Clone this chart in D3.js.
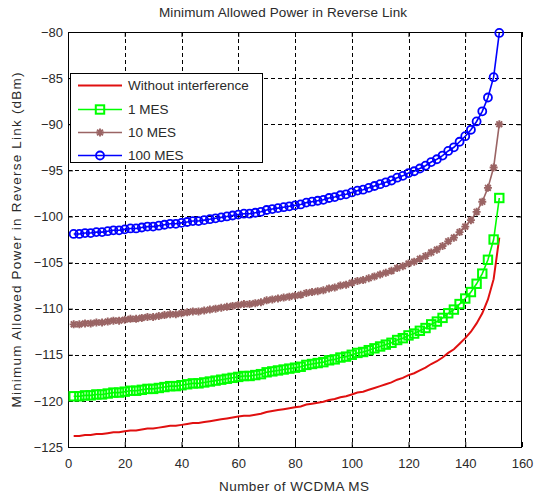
<!DOCTYPE html>
<html><head><meta charset="utf-8">
<script src="https://cdn.jsdelivr.net/npm/d3@7"></script>
<style>
html,body{margin:0;padding:0;background:#fff;}
svg text{font-family:"Liberation Sans",Arial,sans-serif;fill:#2a2a2a;}
</style></head>
<body>
<svg id="chart" width="545" height="497"></svg>
<script>
const xValues = [2,4,6,8,10,12,14,16,18,20,22,24,26,28,30,32,34,36,38,40,42,44,46,48,50,52,54,56,58,60,62,64,66,68,70,72,74,76,78,80,82,84,86,88,90,92,94,96,98,100,102,104,106,108,110,112,114,116,118,120,122,124,126,128,130,132,134,136,138,140,142,144,146,148,150,152];

const withoutInterference = [-123.8,-123.8,-123.7,-123.7,-123.6,-123.6,-123.5,-123.4,-123.4,-123.3,
 -123.2,-123.2,-123.1,-123.0,-123.0,-122.9,-122.8,-122.7,-122.7,-122.6,
 -122.5,-122.4,-122.4,-122.3,-122.2,-122.1,-122.0,-121.9,-121.8,-121.7,
 -121.6,-121.6,-121.5,-121.4,-121.2,-121.1,-121.0,-120.9,-120.8,-120.7,
 -120.6,-120.4,-120.3,-120.2,-120.1,-119.9,-119.8,-119.6,-119.5,-119.3,
 -119.1,-119.0,-118.8,-118.6,-118.4,-118.2,-118.0,-117.7,-117.5,-117.2,
 -117.0,-116.7,-116.4,-116.0,-115.7,-115.3,-114.8,-114.4,-113.8,-113.2,
 -112.5,-111.6,-110.5,-109.0,-106.8,-102.3];

const mes1 = [-119.5,-119.5,-119.4,-119.4,-119.3,-119.3,-119.2,-119.1,-119.1,-119.0,
 -118.9,-118.9,-118.8,-118.7,-118.7,-118.6,-118.5,-118.4,-118.4,-118.3,
 -118.2,-118.1,-118.1,-118.0,-117.9,-117.8,-117.7,-117.6,-117.5,-117.4,
 -117.3,-117.3,-117.2,-117.1,-116.9,-116.8,-116.7,-116.6,-116.5,-116.4,
 -116.3,-116.1,-116.0,-115.9,-115.8,-115.6,-115.5,-115.3,-115.2,-115.0,
 -114.8,-114.7,-114.5,-114.3,-114.1,-113.9,-113.7,-113.4,-113.2,-112.9,
 -112.7,-112.4,-112.1,-111.7,-111.4,-111.0,-110.5,-110.1,-109.5,-108.9,
 -108.2,-107.3,-106.2,-104.7,-102.5,-98.0];

const mes10 = [-111.7,-111.7,-111.6,-111.6,-111.5,-111.5,-111.4,-111.3,-111.3,-111.2,
 -111.1,-111.1,-111.0,-110.9,-110.9,-110.8,-110.7,-110.6,-110.6,-110.5,
 -110.4,-110.3,-110.3,-110.2,-110.1,-110.0,-109.9,-109.8,-109.7,-109.6,
 -109.5,-109.5,-109.4,-109.3,-109.1,-109.0,-108.9,-108.8,-108.7,-108.6,
 -108.5,-108.3,-108.2,-108.1,-108.0,-107.8,-107.7,-107.5,-107.4,-107.2,
 -107.0,-106.9,-106.7,-106.5,-106.3,-106.1,-105.9,-105.6,-105.4,-105.1,
 -104.9,-104.6,-104.3,-103.9,-103.6,-103.2,-102.7,-102.3,-101.7,-101.1,
 -100.4,-99.5,-98.4,-96.9,-94.7,-90.0];

const mes100 = [-101.9,-101.9,-101.8,-101.8,-101.7,-101.7,-101.6,-101.5,-101.5,-101.4,
 -101.3,-101.3,-101.2,-101.1,-101.1,-101.0,-100.9,-100.8,-100.8,-100.7,
 -100.6,-100.5,-100.5,-100.4,-100.3,-100.2,-100.1,-100.0,-99.9,-99.8,
 -99.7,-99.7,-99.6,-99.5,-99.3,-99.2,-99.1,-99.0,-98.9,-98.8,
 -98.7,-98.5,-98.4,-98.3,-98.2,-98.0,-97.9,-97.7,-97.6,-97.4,
 -97.2,-97.1,-96.9,-96.7,-96.5,-96.3,-96.1,-95.8,-95.6,-95.3,
 -95.1,-94.8,-94.5,-94.1,-93.8,-93.4,-92.9,-92.5,-91.9,-91.3,
 -90.6,-89.7,-88.6,-87.1,-84.9,-80.1];

const seriesNames = ["Without interference","1 MES","10 MES","100 MES"];
const xTicks = [0,20,40,60,80,100,120,140,160];
const yTicks = [-125,-120,-115,-110,-105,-100,-95,-90,-85,-80];

const styles = [
  {color:"#e01010", marker:"none", width:2},
  {color:"#00ff00", marker:"square", width:1.6},
  {color:"#9a6464", marker:"star", width:1.6},
  {color:"#0000ff", marker:"circle", width:1.6}
];
const seriesValues = [withoutInterference, mes1, mes10, mes100];

const svg = d3.select("#chart");
const L=68, R=522, T=32, B=447;
const x = d3.scaleLinear().domain([0,160]).range([L,R]);
const y = d3.scaleLinear().domain([-125,-80]).range([B,T]);

// grid
const grid = svg.append("g").attr("stroke","#000").attr("stroke-width",1).attr("stroke-dasharray","4,3");
grid.selectAll(".gx").data(xTicks.slice(1,-1)).enter().append("line")
  .attr("x1",d=>Math.round(x(d))+0.5).attr("x2",d=>Math.round(x(d))+0.5).attr("y1",T).attr("y2",B);
grid.selectAll(".gy").data(yTicks.slice(1,-1)).enter().append("line")
  .attr("y1",d=>Math.round(y(d))+0.5).attr("y2",d=>Math.round(y(d))+0.5).attr("x1",L).attr("x2",R);

// axes
const fs = "13px";
const ax = svg.append("g").attr("transform",`translate(0,${B})`)
  .call(d3.axisBottom(x).tickValues(xTicks).tickSizeInner(-5).tickSizeOuter(0).tickPadding(12));
const ay = svg.append("g").attr("transform",`translate(${L},0)`)
  .call(d3.axisLeft(y).tickValues(yTicks).tickSizeInner(-5).tickSizeOuter(0).tickPadding(5));
const at = svg.append("g").attr("transform",`translate(0,${T})`)
  .call(d3.axisTop(x).tickValues(xTicks).tickSizeInner(-5).tickSizeOuter(0).tickFormat(""));
const ar = svg.append("g").attr("transform",`translate(${R},0)`)
  .call(d3.axisRight(y).tickValues(yTicks).tickSizeInner(-5).tickSizeOuter(0).tickFormat(""));
[ax,ay,at,ar].forEach(g=>{
  g.select(".domain").remove();
  g.selectAll("line").attr("stroke","#000");
  g.selectAll("text").style("font-size",fs).attr("fill","#2a2a2a")
   .style("font-family","'Liberation Sans',Arial,sans-serif");
});
svg.append("rect").attr("x",L+0.5).attr("y",T+0.5).attr("width",R-L-1).attr("height",B-T)
  .attr("fill","none").attr("stroke","#000").attr("stroke-width",1);

// series
const line = d3.line().x((d,i)=>x(xValues[i])).y(d=>y(d));
function drawMarker(g, type, color, cx, cy){
  if(type==="circle"){
    g.append("circle").attr("cx",cx).attr("cy",cy).attr("r",4)
     .attr("fill","none").attr("stroke",color).attr("stroke-width",1.8);
  } else if(type==="square"){
    g.append("rect").attr("x",cx-4.2).attr("y",cy-4.2).attr("width",8.4).attr("height",8.4)
     .attr("fill","none").attr("stroke",color).attr("stroke-width",2);
  } else if(type==="star"){
    const r=4, q=2.9;
    g.append("path").attr("d",`M${cx-r},${cy}L${cx+r},${cy}M${cx},${cy-r}L${cx},${cy+r}M${cx-q},${cy-q}L${cx+q},${cy+q}M${cx-q},${cy+q}L${cx+q},${cy-q}`)
     .attr("stroke",color).attr("stroke-width",1.9).attr("fill","none");
  }
}
seriesValues.forEach((vals,k)=>{
  const st = styles[k];
  const g = svg.append("g");
  g.append("path").datum(vals).attr("d",line).attr("fill","none")
   .attr("stroke",st.color).attr("stroke-width",st.width);
  if(st.marker!=="none"){
    vals.forEach((v,i)=>drawMarker(g, st.marker, st.color, x(xValues[i]), y(v)));
  }
});

// legend
const lg = svg.append("g");
lg.append("rect").attr("x",70.5).attr("y",73.5).attr("width",192).attr("height",89)
  .attr("fill","#fff").attr("stroke","#000").attr("stroke-width",1);
const rowsY = [85.5,109.5,132.5,155.5];
seriesNames.forEach((name,k)=>{
  const st = styles[k];
  const yy = rowsY[k];
  lg.append("line").attr("x1",78).attr("x2",122).attr("y1",yy).attr("y2",yy)
    .attr("stroke",st.color).attr("stroke-width",st.width);
  if(st.marker!=="none") drawMarker(lg, st.marker, st.color, 100, yy);
  lg.append("text").attr("x",128).attr("y",yy).attr("dy","0.35em")
    .style("font-size","13.5px").text(name);
});

// titles
svg.append("text").attr("x",283).attr("y",17).attr("text-anchor","middle")
  .attr("textLength",248).attr("lengthAdjust","spacing")
  .style("font-size","13.5px").text("Minimum Allowed Power in Reverse Link");
svg.append("text").attr("x",294).attr("y",491).attr("text-anchor","middle")
  .attr("textLength",150).attr("lengthAdjust","spacing")
  .style("font-size","13.5px").text("Number of WCDMA MS");
svg.append("text").attr("transform","translate(21,240) rotate(-90)").attr("text-anchor","middle")
  .attr("textLength",335).attr("lengthAdjust","spacing")
  .style("font-size","13.5px").text("Minimum  Allowed Power in Reverse Link (dBm)");
</script>
</body></html>
